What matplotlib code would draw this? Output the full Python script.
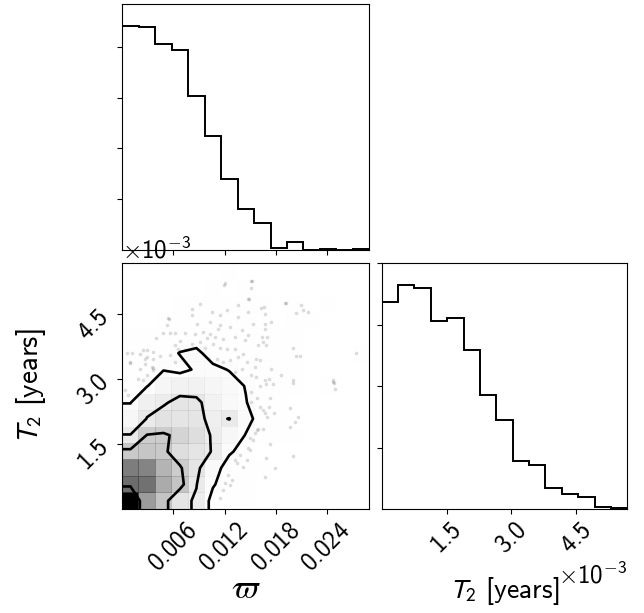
import numpy as np
import matplotlib
matplotlib.use("Agg")
import matplotlib.pyplot as plt
from matplotlib.colors import LinearSegmentedColormap
from matplotlib.ticker import MaxNLocator, ScalarFormatter

plt.rcParams["font.family"] = ["cmss10"]
plt.rcParams["mathtext.fontset"] = "custom"
plt.rcParams["mathtext.rm"] = "cmss10"
plt.rcParams["mathtext.sf"] = "cmss10"
plt.rcParams["mathtext.it"] = "cmss10"
plt.rcParams["mathtext.fallback"] = "cm"
plt.rcParams["axes.formatter.use_mathtext"] = True

# ---------------- data ----------------
varpi_range = [0.0, 0.029]
t2_range = [0.0, 5.685e-3]
n_bins = 15

varpi_counts = [352, 351, 324, 315, 243, 179, 111, 65, 43, 3, 12, 0, 1, 0, 1]
t2_counts = [270, 291, 288, 245, 249, 207, 148, 116, 63, 57, 27, 20, 16, 2, 1]

# 2D histogram counts, rows = T2 bins (bottom -> top), columns = varpi bins
H_rows = [
    [98, 61, 47, 31, 26, 4, 2, 1, 0, 0, 0, 0, 0, 0, 0],
    [74, 73, 56, 47, 28, 11, 1, 1, 0, 0, 0, 0, 0, 0, 0],
    [70, 68, 53, 44, 31, 15, 4, 2, 1, 0, 0, 0, 0, 0, 0],
    [45, 46, 45, 35, 31, 27, 11, 5, 0, 0, 0, 0, 0, 0, 0],
    [28, 43, 44, 40, 35, 26, 17, 9, 5, 1, 1, 0, 0, 0, 0],
    [17, 28, 33, 31, 31, 24, 28, 13, 5, 1, 0, 0, 0, 0, 0],
    [9, 23, 26, 31, 30, 22, 15, 10, 3, 1, 0, 0, 0, 0, 0],
    [4, 9, 18, 22, 22, 18, 14, 9, 4, 2, 1, 0, 1, 0, 0],
    [3, 5, 9, 6, 11, 12, 9, 5, 4, 2, 1, 0, 0, 0, 0],
    [1, 2, 5, 10, 12, 5, 6, 5, 4, 1, 2, 0, 0, 0, 1],
    [1, 1, 2, 3, 4, 4, 4, 3, 2, 1, 2, 0, 0, 0, 0],
    [0, 0, 1, 2, 2, 4, 3, 3, 2, 0, 2, 1, 0, 0, 0],
    [0, 0, 0, 1, 2, 2, 3, 3, 1, 0, 3, 0, 1, 0, 0],
    [0, 0, 0, 0, 0, 1, 0, 1, 0, 0, 0, 0, 0, 0, 0],
    [0, 0, 0, 0, 0, 0, 1, 0, 0, 0, 0, 0, 0, 0, 0],
]
contour_levels = [9.5, 27.5, 42.5, 77.0]

# individual samples visible outside the outer contour
scatter_varpi = [
    0.01194, 0.00912, 0.00815, 0.01362, 0.01479, 0.01050, 0.01147, 0.01226, 0.00815, 0.00552,
    0.00881, 0.01030, 0.01147, 0.01362, 0.01479, 0.00521, 0.00951, 0.01030, 0.01127, 0.01265,
    0.01402, 0.00481, 0.00560, 0.00619, 0.00736, 0.00854, 0.00991, 0.01088, 0.01186, 0.01323,
    0.01441, 0.00396, 0.00677, 0.00815, 0.00912, 0.01068, 0.01147, 0.01226, 0.01323, 0.01421,
    0.00619, 0.00657, 0.00736, 0.00834, 0.00971, 0.00286, 0.00364, 0.00110, 0.00208, 0.00560,
    0.00443, 0.00267, 0.00364, 0.00090, 0.00267, 0.00345, 0.00619, 0.01108, 0.01186, 0.01265,
    0.01362, 0.01461, 0.00208, 0.00364, 0.00286, 0.00188, 0.00247, 0.01323, 0.01402, 0.01515,
    0.01515, 0.01488, 0.01919, 0.02102, 0.02122, 0.02180, 0.02043, 0.01625, 0.01664, 0.01679,
    0.01535, 0.01672, 0.01742, 0.01679, 0.01476, 0.01640, 0.01702, 0.01652, 0.01593, 0.01691,
    0.02004, 0.02747, 0.02043, 0.02083, 0.01573, 0.01613, 0.01555, 0.01742, 0.01515, 0.01573,
    0.01672, 0.01719, 0.01860, 0.02004, 0.02474, 0.01613, 0.01691, 0.01769, 0.02004, 0.02486,
    0.02501, 0.01515, 0.01585, 0.01731, 0.01515, 0.01613, 0.01719, 0.01965, 0.01672, 0.01781,
    0.01702, 0.02063, 0.02024, 0.01593, 0.01652, 0.01555, 0.01965, 0.01535, 0.01731, 0.01476,
    0.02004, 0.01691, 0.01796, 0.01672, 0.01323, 0.01382, 0.01343, 0.01421, 0.01245, 0.01284,
    0.01206, 0.01186, 0.01147, 0.01265, 0.01461, 0.01499, 0.01499, 0.01578, 0.01655, 0.00052,
    0.00090, 0.00032, 0.00070, 0.00247, 0.00286, 0.00364, 0.00540, 0.01206, 0.01519, 0.01910,
    0.02477,
]
scatter_t2_e3 = [
    5.18, 4.74, 4.63, 4.71, 4.85, 4.55, 4.48, 4.59, 4.48, 4.40,
    4.28, 4.32, 4.25, 4.44, 4.55, 4.25, 4.09, 4.05, 4.17, 4.21,
    4.13, 4.07, 4.07, 4.07, 4.07, 4.05, 3.95, 3.97, 3.94, 3.97,
    3.90, 3.95, 3.88, 3.82, 3.86, 3.82, 3.72, 3.69, 3.70, 3.59,
    3.78, 3.69, 3.67, 3.70, 3.72, 3.67, 3.63, 3.61, 3.59, 3.55,
    3.54, 3.47, 3.47, 3.40, 3.36, 3.28, 3.40, 3.47, 3.40, 3.44,
    3.51, 3.40, 3.24, 3.21, 3.09, 3.01, 2.97, 3.17, 3.24, 5.27,
    5.11, 4.85, 4.76, 4.72, 4.59, 4.55, 4.54, 4.65, 4.67, 4.50,
    4.28, 4.28, 4.32, 4.17, 4.01, 3.97, 3.97, 3.86, 3.80, 3.78,
    3.72, 3.61, 3.53, 3.53, 3.47, 3.44, 3.28, 3.24, 3.09, 3.05,
    2.97, 3.00, 3.09, 2.97, 2.97, 2.84, 2.90, 2.89, 2.92, 2.92,
    2.77, 2.71, 2.56, 2.56, 2.48, 2.36, 2.36, 2.33, 2.21, 2.21,
    2.13, 2.13, 2.02, 1.86, 1.86, 1.76, 1.90, 1.59, 1.50, 1.40,
    1.22, 1.17, 0.94, 0.75, 1.13, 1.25, 1.06, 0.98, 0.79, 0.67,
    0.59, 0.44, 0.25, 0.55, 1.13, 1.36, 1.63, 1.83, 2.29, 3.60,
    3.37, 2.75, 2.63, 3.67, 3.52, 3.25, 4.41, 5.22, 5.28, 4.75,
    2.94,
]

label_varpi = r"$\varpi$"
label_t2 = r"$T_2$ [years]"

# ---------------- figure ----------------
W, Hpx = 644, 613
fig = plt.figure(figsize=(W / 100, Hpx / 100), dpi=100)

def ax_rect(x0, y0, x1, y1):
    return [x0 / W, (Hpx - y1) / Hpx, (x1 - x0) / W, (y1 - y0) / Hpx]

ax_top = fig.add_axes(ax_rect(122.3, 4, 369.3, 250))
ax_2d = fig.add_axes(ax_rect(122.3, 263, 369.3, 509))
ax_rt = fig.add_axes(ax_rect(381.7, 263, 627.3, 509))

edges_v = np.linspace(varpi_range[0], varpi_range[1], n_bins + 1)
edges_t = np.linspace(t2_range[0], t2_range[1], n_bins + 1)
cent_v = 0.5 * (edges_v[1:] + edges_v[:-1])
cent_t = 0.5 * (edges_t[1:] + edges_t[:-1])

tick_fs = 18
label_fs = 20
hist_lw = 1.4
label_off = -0.27


class SciFormatter(ScalarFormatter):
    """ScalarFormatter whose offset uses plain math (so the minus sign has a glyph)."""

    def __init__(self):
        super().__init__(useMathText=True)
        self.set_powerlimits((-3, 4))

    def get_offset(self):
        if self.orderOfMagnitude:
            return r"$\times10^{%d}$" % self.orderOfMagnitude
        return ""


# top histogram (varpi)
ax_top.hist(cent_v, bins=edges_v, weights=varpi_counts, histtype="step", color="k", lw=hist_lw)
ax_top.set_xlim(varpi_range)
ax_top.set_ylim(0, 1.1 * max(varpi_counts))
ax_top.xaxis.set_major_locator(MaxNLocator(5, prune="lower"))
ax_top.yaxis.set_major_locator(MaxNLocator(5, prune="lower"))
ax_top.set_xticklabels([])
ax_top.set_yticklabels([])

# right histogram (T2)
ax_rt.hist(cent_t, bins=edges_t, weights=t2_counts, histtype="step", color="k", lw=hist_lw)
ax_rt.set_xlim(t2_range)
ax_rt.set_ylim(0, 1.1 * max(t2_counts))
ax_rt.xaxis.set_major_locator(MaxNLocator(5, prune="lower"))
ax_rt.yaxis.set_major_locator(MaxNLocator(5, prune="lower"))
ax_rt.xaxis.set_major_formatter(SciFormatter())
ax_rt.set_yticklabels([])
ax_rt.tick_params(labelsize=tick_fs)
for lab in ax_rt.get_xticklabels():
    lab.set_rotation(45)
ax_rt.xaxis.get_offset_text().set_fontsize(tick_fs)
ax_rt.set_xlabel(label_t2, fontsize=label_fs, math_fontfamily="stixsans")
ax_rt.xaxis.set_label_coords(0.5, label_off)

# 2D panel
H = np.array(H_rows, dtype=float)
ny, nx = H.shape
dxv = cent_v[1] - cent_v[0]
dyt = cent_t[1] - cent_t[0]
X2 = np.concatenate([cent_v[0] + np.array([-2, -1]) * dxv, cent_v, cent_v[-1] + np.array([1, 2]) * dxv])
Y2 = np.concatenate([cent_t[0] + np.array([-2, -1]) * dyt, cent_t, cent_t[-1] + np.array([1, 2]) * dyt])
H2 = H.min() + np.zeros((ny + 4, nx + 4))
H2[2:-2, 2:-2] = H
H2[2:-2, 1] = H[:, 0]
H2[2:-2, -2] = H[:, -1]
H2[1, 2:-2] = H[0]
H2[-2, 2:-2] = H[-1]
H2[1, 1] = H[0, 0]
H2[1, -2] = H[0, -1]
H2[-2, 1] = H[-1, 0]
H2[-2, -2] = H[-1, -1]

ax_2d.plot(scatter_varpi, np.array(scatter_t2_e3) * 1e-3, "o", color="k", ms=2.6,
           mec="none", alpha=0.14, zorder=-1)
white_cmap = LinearSegmentedColormap.from_list("white_cmap", [(1, 1, 1), (1, 1, 1)], N=2)
ax_2d.contourf(X2, Y2, H2, [min(contour_levels), H.max()], cmap=white_cmap, antialiased=False)
density_cmap = LinearSegmentedColormap.from_list("density_cmap", ["k", (1, 1, 1, 0)])
ax_2d.pcolor(edges_v, edges_t, H.max() - H, cmap=density_cmap)
ax_2d.contour(X2, Y2, H2, contour_levels, colors="k", linewidths=1.9)
ax_2d.set_xlim(varpi_range)
ax_2d.set_ylim(t2_range)
ax_2d.xaxis.set_major_locator(MaxNLocator(5, prune="lower"))
ax_2d.yaxis.set_major_locator(MaxNLocator(5, prune="lower"))
ax_2d.xaxis.set_major_formatter(SciFormatter())
ax_2d.yaxis.set_major_formatter(SciFormatter())
ax_2d.tick_params(labelsize=tick_fs)
for lab in ax_2d.get_xticklabels():
    lab.set_rotation(45)
for lab in ax_2d.get_yticklabels():
    lab.set_rotation(45)
ax_2d.yaxis.get_offset_text().set_fontsize(tick_fs)
ax_2d.set_xlabel(label_varpi, fontsize=label_fs + 4, math_fontfamily="cm")
ax_2d.set_ylabel(label_t2, fontsize=label_fs + 1, math_fontfamily="stixsans")
ax_2d.xaxis.set_label_coords(0.5, label_off)
ax_2d.yaxis.set_label_coords(-0.3, 0.5)

fig.savefig("out.png", dpi=100)
